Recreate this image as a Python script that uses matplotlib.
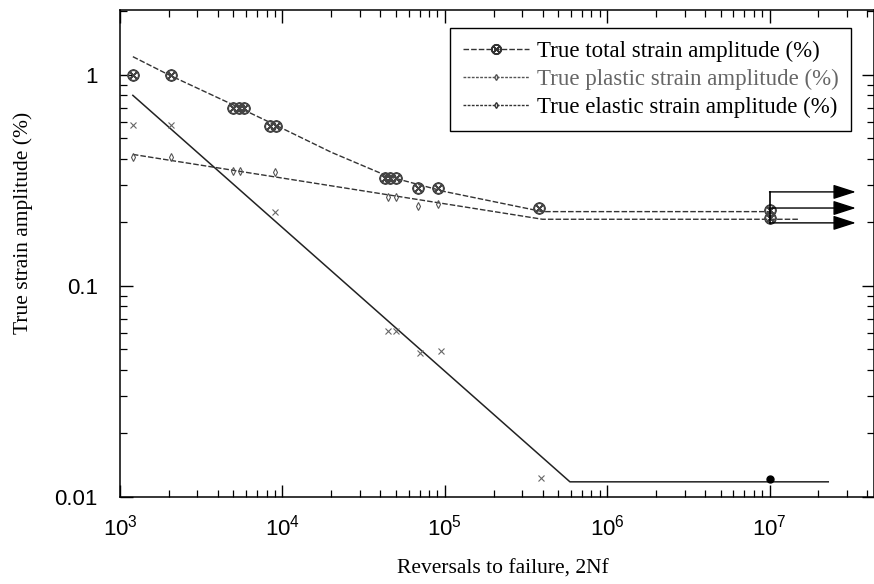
import matplotlib
matplotlib.use("Agg")
import matplotlib.pyplot as plt
import matplotlib.ticker as mticker
import numpy as np

plt.rcParams["mathtext.fontset"] = "custom"
plt.rcParams["mathtext.rm"] = "Liberation Sans"

# measured points
tot_x = [1.2e3, 2.05e3, 5.0e3, 5.4e3, 5.8e3, 8.4e3, 9.1e3, 4.3e4, 4.6e4, 5.0e4, 6.8e4, 9.1e4, 3.8e5, 1e7, 1e7]
tot_y = [1.0, 1.0, 0.70, 0.70, 0.70, 0.57, 0.57, 0.325, 0.325, 0.325, 0.29, 0.29, 0.235, 0.23, 0.21]
flat_x = [1.2e3, 2.05e3, 5.0e3, 5.5e3, 9.0e3, 4.5e4, 5.0e4, 6.8e4, 9.1e4]
flat_y = [0.41, 0.41, 0.35, 0.35, 0.345, 0.265, 0.265, 0.24, 0.245]
steep_x = [1.2e3, 2.05e3, 9.0e3, 4.5e4, 5.0e4, 7.0e4, 9.5e4, 3.9e5]
steep_y = [0.58, 0.58, 0.225, 0.061, 0.061, 0.048, 0.049, 0.0123]
runout_x = [1e7]
runout_y = [0.0122]

# fitted lines
tot_line_x = [1.2e3, 2e3, 5e3, 9e3, 2e4, 4.5e4, 1e5, 4e5, 1e7]
tot_line_y = [1.22, 1.0, 0.72, 0.58, 0.43, 0.33, 0.28, 0.225, 0.225]
flat_line_x = [1.2e3, 4e5, 1.5e7]
flat_line_y = [0.42, 0.207, 0.207]
steep_line_x = [1.2e3, 5.9e5, 2.3e7]
steep_line_y = [0.80, 0.0118, 0.0118]

# run-out arrows
arrow_y = [0.279, 0.234, 0.199]
arrow_x0, arrow_x1 = 1e7, 3.4e7

fig = plt.figure(figsize=(8.74, 5.84), dpi=100)
ax = fig.add_axes([120 / 874, 1 - 497 / 584, 754 / 874, 487 / 584])
ax.set_xscale("log")
ax.set_yscale("log")
ax.set_xlim(1e3, 4.4e7)
ax.set_ylim(0.01, 2.03)

ax.plot(tot_line_x, tot_line_y, color="#333333", ls=(0, (4, 1.5)), lw=1.0)
ax.plot(flat_line_x, flat_line_y, color="#333333", ls=(0, (4, 1.5)), lw=1.0)
ax.plot(steep_line_x, steep_line_y, color="#222222", ls="-", lw=1.1)

ax.plot(tot_x, tot_y, ls="none", marker=r"$\otimes$", ms=8, color="#444444")
ax.plot(flat_x, flat_y, ls="none", marker="d", ms=4, mfc="none", mec="#555555", mew=0.8)
ax.plot(steep_x, steep_y, ls="none", marker="x", ms=4, color="#666666", mew=0.8)
ax.plot(runout_x, runout_y, ls="none", marker="o", ms=5, color="black")

ax.plot([arrow_x0, arrow_x0], [arrow_y[0], arrow_y[-1]], color="black", lw=1.2)
for yy in arrow_y:
    ax.annotate("", xy=(arrow_x1, yy), xytext=(arrow_x0, yy),
                arrowprops=dict(arrowstyle="-|>,head_length=1.4,head_width=0.45",
                                color="black", lw=1.0, shrinkA=0, shrinkB=0))

# legend proxies
h1, = ax.plot([], [], color="#333333", ls=(0, (4, 1.5)), lw=1.0, marker=r"$\otimes$", ms=7)
h2, = ax.plot([], [], color="#555555", ls=(0, (2, 1)), lw=1.0, marker="d", ms=3, mfc="none")
h3, = ax.plot([], [], color="#333333", ls=(0, (2, 1)), lw=1.0, marker="d", ms=3, mfc="none")
leg = ax.legend([h1, h2, h3],
                ["True total strain amplitude (%)", "True plastic strain amplitude (%)",
                 "True elastic strain amplitude (%)"],
                loc="upper right", bbox_to_anchor=(0.97, 0.963), borderaxespad=0,
                fancybox=False, edgecolor="black", framealpha=1, handlelength=2.9,
                handletextpad=0.35, borderpad=0.55, labelspacing=0.3,
                prop={"family": "Liberation Serif", "size": 16.5})
leg.get_frame().set_linewidth(1.0)
leg.get_texts()[1].set_color("#666666")

ax.set_xticks([1e3, 1e4, 1e5, 1e6, 1e7])
ax.xaxis.set_major_formatter(mticker.FixedFormatter(
    [r"$10^{3}$", r"$10^{4}$", r"$10^{5}$", r"$10^{6}$", r"$10^{7}$"]))
ax.xaxis.set_minor_locator(mticker.LogLocator(base=10, subs=np.arange(2, 10), numticks=20))
ax.xaxis.set_minor_formatter(mticker.NullFormatter())
ax.set_yticks([0.01, 0.1, 1])
ax.set_yticklabels(["0.01", "0.1", "1"])
ax.yaxis.set_minor_locator(mticker.LogLocator(base=10, subs=np.arange(2, 10), numticks=20))
ax.yaxis.set_minor_formatter(mticker.NullFormatter())

ax.tick_params(which="both", direction="in", top=True, right=True, color="black")
ax.tick_params(which="major", length=9, width=1.0, labelsize=16)
ax.tick_params(axis="x", which="major", pad=13)
ax.tick_params(axis="y", which="major", pad=16)
ax.tick_params(which="minor", length=5, width=0.9)
for lab in ax.get_xticklabels() + ax.get_yticklabels():
    lab.set_family("Liberation Sans")
for sp in ax.spines.values():
    sp.set_linewidth(1.1)

ax.set_xlabel("Reversals to failure, 2Nf", family="Liberation Serif", fontsize=15.5)
ax.set_ylabel("True strain amplitude (%)", family="Liberation Serif", fontsize=15.5)
ax.xaxis.set_label_coords(0.508, -0.128)
ax.yaxis.set_label_coords(-0.116, 0.563)

fig.savefig("out.png", dpi=100)
